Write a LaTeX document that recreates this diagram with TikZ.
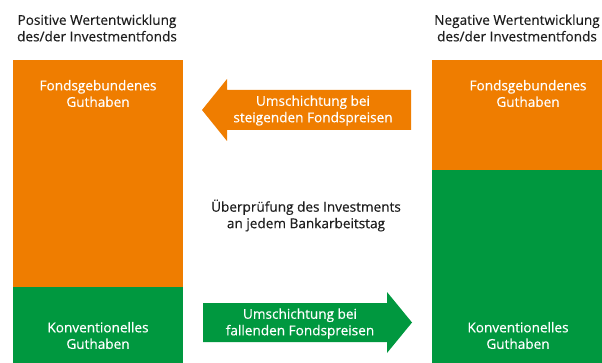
\documentclass[tikz,border=0pt]{standalone}
\usepackage{fontspec}
\setmainfont[FakeBold=0.35]{Open Sans}
\definecolor{ora}{HTML}{EF7D00}
\definecolor{grn}{HTML}{00983F}
\definecolor{txt}{HTML}{1E1E1E}
\begin{document}
\begin{tikzpicture}[x=1pt,y=-1pt,
  lbl/.style={align=center,font=\fontsize{13.6}{16.5}\selectfont,inner sep=0pt},
  wlbl/.style={lbl,text=white},
  hdr/.style={lbl,text=txt}]
\useasboundingbox (0,0) rectangle (602,363);
% left column
\fill[ora] (13,60) rectangle (183,287);
\fill[grn] (13,287) rectangle (183,363);
% right column
\fill[ora] (432,60) rectangle (602,170);
\fill[grn] (432,170) rectangle (602,363);
% arrows
\fill[ora] (202,110) -- (227,79) -- (227,90) -- (411,90) -- (411,130) -- (227,130) -- (227,141) -- cycle;
\fill[grn] (203,303) -- (387,303) -- (387,292) -- (412,322.5) -- (387,353) -- (387,342) -- (203,342) -- cycle;
% texts
\node[hdr] (h1) at (97,28) {Positive Wertentwicklung\\des/der Investmentfonds};
\node[hdr] (h2) at (517,28) {Negative Wertentwicklung\\des/der Investmentfonds};
\node[wlbl] (f1) at (98,93.5) {Fondsgebundenes\\Guthaben};
\node[wlbl] (f2) at (528,93.5) {Fondsgebundenes\\Guthaben};
\node[wlbl] (k1) at (98,335.5) {Konventionelles\\Guthaben};
\node[wlbl] (k2) at (518,335.5) {Konventionelles\\Guthaben};
\node[hdr] (m) at (306,215.5) {Überprüfung des Investments\\an jedem Bankarbeitstag};
\node[wlbl] (a1) at (313,110.5) {Umschichtung bei\\steigenden Fondspreisen};
\node[wlbl] (a2) at (300,323.5) {Umschichtung bei\\fallenden Fondspreisen};
\end{tikzpicture}
\end{document}
